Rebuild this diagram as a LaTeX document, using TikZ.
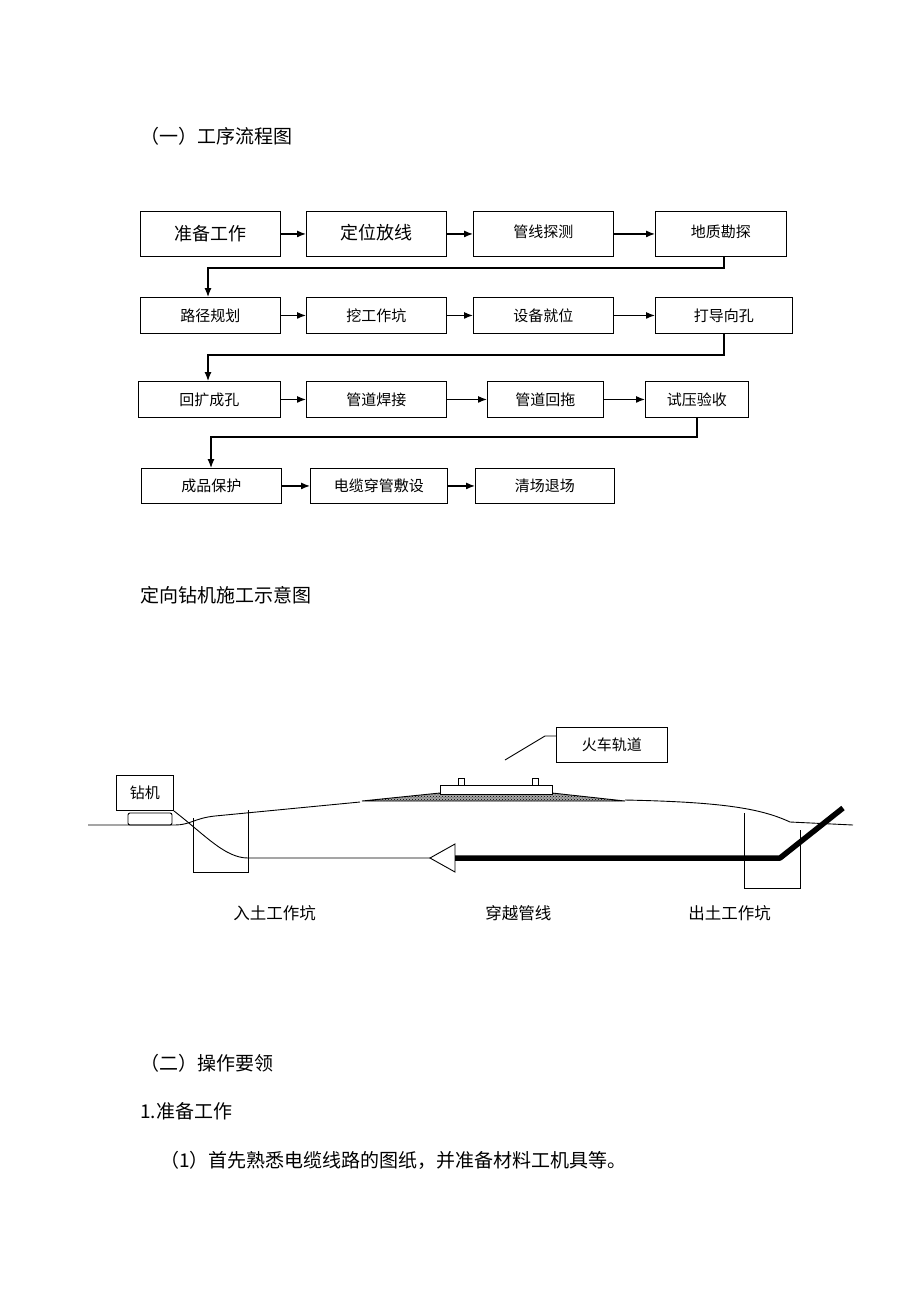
\documentclass[tikz,border=0pt]{standalone}
\usepackage{fontspec}
\setmainfont{Liberation Serif}
\newfontfamily\cjk{Noto Sans CJK SC}
\usetikzlibrary{patterns,arrows.meta}

\begin{document}
\begin{tikzpicture}[x=1pt,y=-1pt,line width=0.9pt,
    box/.style={draw,inner sep=0pt,anchor=north west,font=\cjk\fontsize{15}{16}\selectfont},
    flow/.style={-{Latex[length=9pt,width=7pt]},line width=1.2pt},
    lbl/.style={inner sep=0pt,anchor=west,font=\cjk\fontsize{16.5}{18}\selectfont},
    head/.style={lbl,font=\cjk\fontsize{19}{20}\selectfont}]
    \useasboundingbox (0,0) rectangle (920,1302);
    % headings
    \node[head] (h1) at (140,136) {（一）工序流程图};
    \node[head] (h2) at (140,595) {定向钻机施工示意图};
    \node[head] (h3) at (140,1063) {（二）操作要领};
    \node[head] (h4) at (140,1111) {1.准备工作};
    \node[head] (h5) at (160,1160) {（1）首先熟悉电缆线路的图纸，并准备材料工机具等。};
    % row 1
    \node[box,minimum width=140,minimum height=45,font=\cjk\fontsize{18}{18}\selectfont] (a1) at (140,211) {准备工作};
    \node[box,minimum width=140,minimum height=45,font=\cjk\fontsize{18}{18}\selectfont] (a2) at (306,211) {\raisebox{5pt}{定位放线}};
    \node[box,minimum width=140,minimum height=45] (a3) at (473,211) {\raisebox{5pt}{管线探测}};
    \node[box,minimum width=131,minimum height=45] (a4) at (655,211) {\raisebox{5pt}{地质勘探}};
    % row 2
    \node[box,minimum width=140,minimum height=36] (b1) at (140,297) {路径规划};
    \node[box,minimum width=140,minimum height=36] (b2) at (306,297) {挖工作坑};
    \node[box,minimum width=140,minimum height=36] (b3) at (473,297) {设备就位};
    \node[box,minimum width=137,minimum height=36] (b4) at (655,297) {打导向孔};
    % row 3
    \node[box,minimum width=142,minimum height=36] (c1) at (138,381) {回扩成孔};
    \node[box,minimum width=140,minimum height=36] (c2) at (306,381) {管道焊接};
    \node[box,minimum width=116,minimum height=36] (c3) at (487,381) {管道回拖};
    \node[box,minimum width=103,minimum height=36] (c4) at (645,381) {试压验收};
    % row 4
    \node[box,minimum width=140,minimum height=35] (d1) at (141,468) {成品保护};
    \node[box,minimum width=137,minimum height=35] (d2) at (310,468) {电缆穿管敷设};
    \node[box,minimum width=139,minimum height=35] (d3) at (475,468) {清场退场};
    \draw[flow] (a1) -- (a2);
    \draw[flow] (a2) -- (a3);
    \draw[flow] (a3) -- (a4);
    \draw[flow] (b1) -- (b2);
    \draw[flow] (b2) -- (b3);
    \draw[flow] (b3) -- (b4);
    \draw[flow] (c1) -- (c2);
    \draw[flow] (c2) -- (c3);
    \draw[flow] (c3) -- (c4);
    \draw[flow] (d1) -- (d2);
    \draw[flow] (d2) -- (d3);
    \draw[flow] (a4.south -| 724,0) -- (724,268) -- (208,268) -- (b1.north -| 208,0);
    \draw[flow] (b4.south -| 724,0) -- (724,355) -- (208,355) -- (c1.north -| 208,0);
    \draw[flow] (c4.south -| 697,0) -- (697,437) -- (211,437) -- (d1.north -| 211,0);
    % drilling sketch
    \node[box,minimum width=57,minimum height=35,font=\cjk\fontsize{15}{16}\selectfont] (rig) at (116,775) {钻机};
    \draw[rounded corners=2pt] (128,813) rectangle (172,825);
    \draw (88,825) -- (175,825) .. controls (190,825) and (195,818) .. (215,816) -- (360,802);
    \draw (625,800) .. controls (720,802) and (760,808) .. (790,822) -- (853,825);
    % embankment and rail
    \fill[black!35] (362,801) -- (440,793) -- (552,793) -- (625,801) -- cycle;
    \fill[pattern=crosshatch dots,pattern color=black] (362,801) -- (440,793) -- (552,793) -- (625,801) -- cycle;
    \draw (362,801) -- (440,793) -- (552,793) -- (625,801) -- cycle;
    \draw[fill=white] (440,785) rectangle (552,794);
    \draw[fill=white] (458,778) rectangle (464,785);
    \draw[fill=white] (532,778) rectangle (538,785);
    \node[box,minimum width=111,minimum height=35] (rail) at (556,727) {火车轨道};
    \coordinate (lead) at (505,760);
    \draw (lead) -- (545,736) -- (rail.west |- 0,736);
    % pits
    \draw (193,818) -- (193,872) -- (248,872) -- (248,810);
    \draw (744,813) -- (744,888) -- (800,888) -- (800,830);
    % pipe
    \coordinate (tip) at (430,858);
    \draw (rig.south east) .. controls (205,835) and (225,858) .. (248,858) -- (tip);
    \draw[fill=white] (tip) -- (455,844) -- (455,872) -- cycle;
    \draw[line width=5.5pt,line join=round] (455,858) -- (780,858) -- (843,808);
    \node[lbl] (l1) at (233,913) {入土工作坑};
    \node[lbl] (l2) at (485,913) {穿越管线};
    \node[lbl] (l3) at (688,913) {出土工作坑};
\end{tikzpicture}
\end{document}
